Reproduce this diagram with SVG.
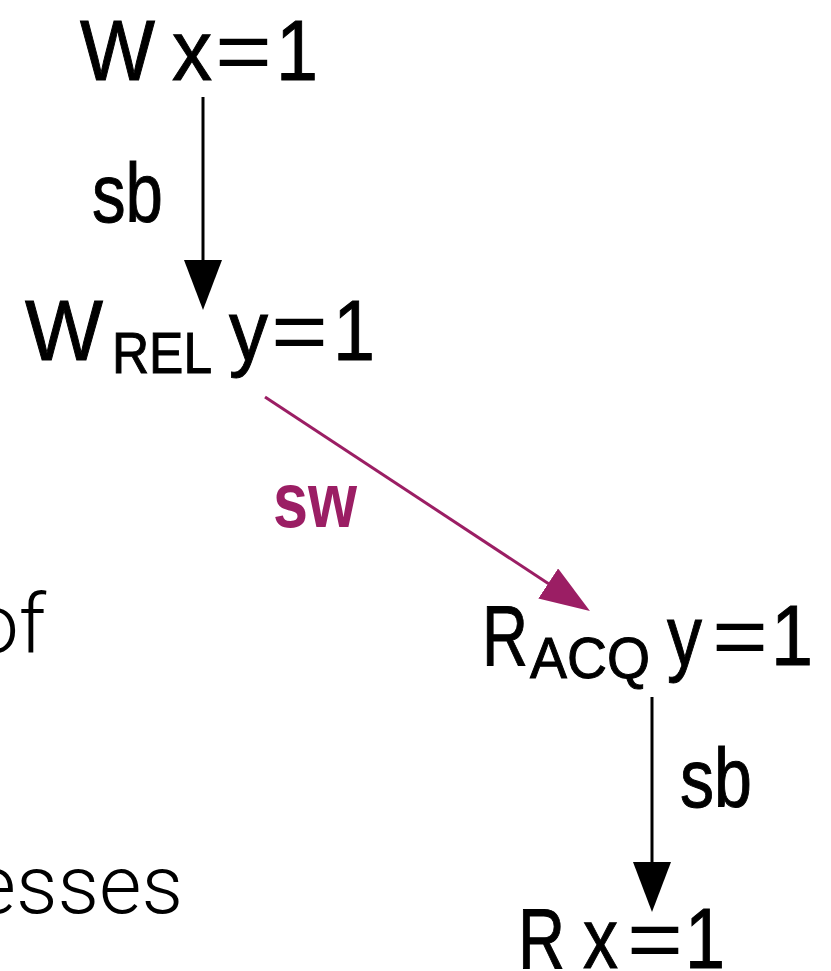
<svg xmlns="http://www.w3.org/2000/svg" width="831" height="971" viewBox="0 0 831 971">
<style>
.t{font-family:"Liberation Sans","DejaVu Sans",sans-serif;font-size:86px;fill:#000;stroke:#000;stroke-width:1}
.eq{stroke:none}
.sub{font-size:58px}
.lbl{font-family:"Liberation Sans","DejaVu Sans",sans-serif;font-size:84px;fill:#000;stroke:#000;stroke-width:1}
.sw{font-family:"Liberation Sans","DejaVu Sans",sans-serif;font-size:78px;font-weight:bold;fill:#9b1e64}
.bg{font-family:Roboto,"Liberation Sans",sans-serif;font-weight:300;font-size:82px;fill:#000}
.e{stroke:#000;stroke-width:3;fill:none}
.p{stroke:#9b1e64;stroke-width:3;fill:none}
</style>
<defs>
<marker id="ab" markerUnits="userSpaceOnUse" markerWidth="52" markerHeight="40" refX="40" refY="19" orient="auto"><path d="M0,0 L50,19 L0,38 z" fill="#000"/></marker>
<marker id="ap" markerUnits="userSpaceOnUse" markerWidth="52" markerHeight="40" refX="40" refY="18" orient="auto"><path d="M0,0 L50,18 L0,36 z" fill="#9b1e64"/></marker>
</defs>
<rect width="831" height="971" fill="#fff"/>
<g id="background-text">
<text class="bg" x="46" y="652" text-anchor="end">of</text>
<text class="bg" x="183" y="913" text-anchor="end">esses</text>
</g>
<g id="connectors">
<line class="e" x1="203" y1="97" x2="203" y2="300" marker-end="url(#ab)"/>
<line class="p" x1="265" y1="397" x2="581.6" y2="605.5" marker-end="url(#ap)"/>
<line class="e" x1="652" y1="697" x2="652" y2="902" marker-end="url(#ab)"/>
<text class="lbl" x="92" y="222" textLength="71" lengthAdjust="spacingAndGlyphs">sb</text>
<text class="sw" x="273" y="527" textLength="84" lengthAdjust="spacingAndGlyphs">sw</text>
<text class="lbl" x="680" y="807" textLength="72" lengthAdjust="spacingAndGlyphs">sb</text>
</g>
<g id="n1">
<text class="t" x="80" y="80" textLength="75" lengthAdjust="spacingAndGlyphs">W</text>
<text class="t" x="172" y="80" textLength="40" lengthAdjust="spacingAndGlyphs">x</text>
<text class="t eq" x="215" y="80" textLength="57" lengthAdjust="spacingAndGlyphs">=</text>
<text class="t" x="276" y="80" textLength="42" lengthAdjust="spacingAndGlyphs">1</text>
</g>
<g id="n2">
<text class="t" x="25" y="360" textLength="78" lengthAdjust="spacingAndGlyphs">W</text>
<text class="t sub" x="112" y="373" textLength="100" lengthAdjust="spacingAndGlyphs">REL</text>
<text class="t" x="229" y="360" textLength="39" lengthAdjust="spacingAndGlyphs">y</text>
<text class="t eq" x="271" y="360" textLength="57" lengthAdjust="spacingAndGlyphs">=</text>
<text class="t" x="333" y="360" textLength="42" lengthAdjust="spacingAndGlyphs">1</text>
</g>
<g id="n3">
<text class="t" x="482" y="665" textLength="46" lengthAdjust="spacingAndGlyphs">R</text>
<text class="t sub" x="530" y="678" textLength="120" lengthAdjust="spacingAndGlyphs">ACQ</text>
<text class="t" x="667" y="665" textLength="35" lengthAdjust="spacingAndGlyphs">y</text>
<text class="t eq" x="712" y="665" textLength="56" lengthAdjust="spacingAndGlyphs">=</text>
<text class="t" x="771" y="665" textLength="42" lengthAdjust="spacingAndGlyphs">1</text>
</g>
<g id="n4">
<text class="t" x="518" y="968" textLength="47" lengthAdjust="spacingAndGlyphs">R</text>
<text class="t" x="583" y="968" textLength="35" lengthAdjust="spacingAndGlyphs">x</text>
<text class="t eq" x="627" y="968" textLength="56" lengthAdjust="spacingAndGlyphs">=</text>
<text class="t" x="685" y="968" textLength="40" lengthAdjust="spacingAndGlyphs">1</text>
</g>
</svg>
